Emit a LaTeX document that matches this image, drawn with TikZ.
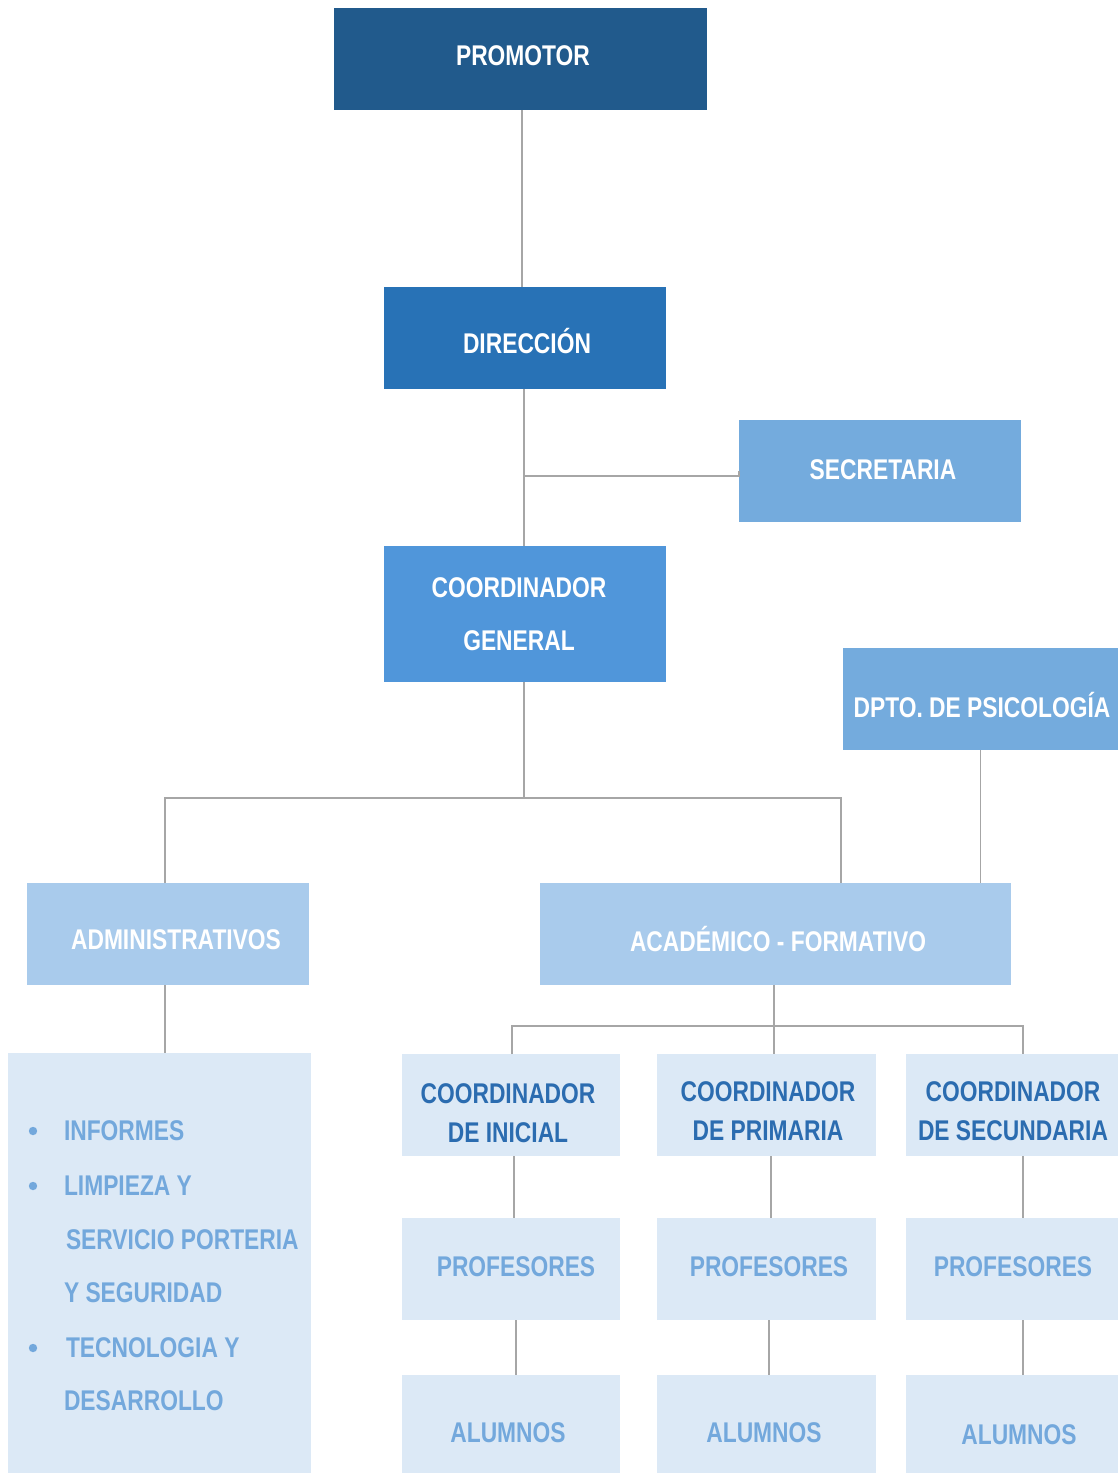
\documentclass[tikz,border=0pt]{standalone}
\usepackage{fontspec}
\setmainfont{Liberation Sans}[FakeStretch=0.8]
\usetikzlibrary{calc}
\definecolor{cPromo}{HTML}{215A8C}
\definecolor{cDir}{HTML}{2872B6}
\definecolor{cSec}{HTML}{74ABDD}
\definecolor{cGen}{HTML}{5096DA}
\definecolor{cMid}{HTML}{A9CBEC}
\definecolor{cLight}{HTML}{DCE9F6}
\definecolor{cDark}{HTML}{2B6CB0}
\definecolor{cSoft}{HTML}{73A8DC}
\definecolor{cLine}{HTML}{A6A6A6}
\tikzset{
  orgbox/.style={draw=none, inner sep=0pt, outer sep=0pt},
  txt/.style={inner sep=0pt, outer sep=0pt, text height=20pt, text depth=0pt,
    font=\fontsize{28.5}{34}\selectfont\bfseries},
  conn/.style={draw=cLine, line width=1.6pt},
}
\begin{document}
\begin{tikzpicture}[x=1pt,y=-1pt]
\useasboundingbox[fill=white] (0,0) rectangle (1118,1473);
% boxes
\node[orgbox, fill=cPromo, minimum width=373pt, minimum height=102pt] (promotor) at (520.5,59) {};
\node[orgbox, fill=cDir, minimum width=282pt, minimum height=102pt] (direccion) at (525,338) {};
\node[orgbox, fill=cSec, minimum width=282pt, minimum height=102pt] (secretaria) at (880,471) {};
\node[orgbox, fill=cGen, minimum width=282pt, minimum height=136pt] (coordgen) at (525,614) {};
\node[orgbox, fill=cSec, minimum width=275pt, minimum height=102pt] (dpto) at (980.5,699) {};
\node[orgbox, fill=cMid, minimum width=282pt, minimum height=102pt] (admin) at (168,934) {};
\node[orgbox, fill=cMid, minimum width=471pt, minimum height=102pt] (acad) at (775.5,934) {};
\node[orgbox, fill=cLight, minimum width=303pt, minimum height=420pt] (admbox) at (159.5,1263) {};
\node[orgbox, fill=cLight, minimum width=218pt, minimum height=102pt] (ci) at (511,1105) {};
\node[orgbox, fill=cLight, minimum width=219pt, minimum height=102pt] (cp) at (766.5,1105) {};
\node[orgbox, fill=cLight, minimum width=212pt, minimum height=102pt] (cs) at (1012,1105) {};
\node[orgbox, fill=cLight, minimum width=218pt, minimum height=102pt] (pi) at (511,1269) {};
\node[orgbox, fill=cLight, minimum width=219pt, minimum height=102pt] (pp) at (766.5,1269) {};
\node[orgbox, fill=cLight, minimum width=212pt, minimum height=102pt] (ps) at (1012,1269) {};
\node[orgbox, fill=cLight, minimum width=218pt, minimum height=98pt] (ai) at (511,1424) {};
\node[orgbox, fill=cLight, minimum width=219pt, minimum height=98pt] (ap) at (766.5,1424) {};
\node[orgbox, fill=cLight, minimum width=212pt, minimum height=98pt] (as) at (1012,1424) {};
% texts
\node[txt, text=white] (t-promotor) at (523,55) {PROMOTOR};
\node[txt, text=white] (t-direccion) at (527,343) {DIRECCIÓN};
\node[txt, text=white] (t-secretaria) at (883,469) {SECRETARIA};
\node[txt, text=white] (t-gen1) at (519,587) {COORDINADOR};
\node[txt, text=white] (t-gen2) at (519,640) {GENERAL};
\node[txt, text=white] (t-dpto) at (982,707) {DPTO. DE PSICOLOGÍA};
\node[txt, text=white] (t-admin) at (176,939) {ADMINISTRATIVOS};
\node[txt, text=white] (t-acad) at (778,941) {ACADÉMICO - FORMATIVO};
% admin list
\node[txt, text=cSoft, anchor=west] (l1) at (64,1130) {INFORMES};
\node[txt, text=cSoft, anchor=west] (l2) at (64,1185) {LIMPIEZA Y};
\node[txt, text=cSoft, anchor=west] (l3) at (66,1239) {SERVICIO PORTERIA};
\node[txt, text=cSoft, anchor=west] (l4) at (64,1292) {Y SEGURIDAD};
\node[txt, text=cSoft, anchor=west] (l5) at (66,1347) {TECNOLOGIA Y};
\node[txt, text=cSoft, anchor=west] (l6) at (64,1400) {DESARROLLO};
\foreach \yy in {1131,1186,1348}
  \fill[cSoft] (33,\yy) circle (4.2pt);
% coordinators
\node[txt, text=cDark] (t-ci1) at (508,1093) {COORDINADOR};
\node[txt, text=cDark] (t-ci2) at (508,1132) {DE INICIAL};
\node[txt, text=cDark] (t-cp1) at (768,1091) {COORDINADOR};
\node[txt, text=cDark] (t-cp2) at (768,1130) {DE PRIMARIA};
\node[txt, text=cDark] (t-cs1) at (1013,1091) {COORDINADOR};
\node[txt, text=cDark] (t-cs2) at (1013,1130) {DE SECUNDARIA};
\node[txt, text=cSoft] (t-pi) at (516,1266) {PROFESORES};
\node[txt, text=cSoft] (t-pp) at (769,1266) {PROFESORES};
\node[txt, text=cSoft] (t-ps) at (1013,1266) {PROFESORES};
\node[txt, text=cSoft] (t-ai) at (508,1432) {ALUMNOS};
\node[txt, text=cSoft] (t-ap) at (764,1432) {ALUMNOS};
\node[txt, text=cSoft] (t-as) at (1019,1434) {ALUMNOS};
% connectors
\coordinate (acadin) at (841,883);
\coordinate (csin) at ($(cs.north)+(11,0)$);
\coordinate (adminin) at ($(admin.north)+(-3,0)$);
\draw[conn] ($(promotor.south)+(1.5,0)$) -- ($(promotor.south |- direccion.north)+(1.5,0)$);
\draw[conn] ($(direccion.south)+(-1,0)$) -- ($(coordgen.north)+(-1,0)$);
\draw[conn] (secretaria.west) -- ++(0,5) -- ($(secretaria.west -| direccion.south)+(-1,5)$);
\draw[conn] ($(coordgen.south)+(-1,0)$) -- ++(0,116);
\draw[conn] (adminin) -- ++(0,-85) -| (acadin);
\draw[conn] (dpto.south) -- (dpto.south |- acad.north);
\draw[conn] ($(admin.south)+(-3,0)$) -- ($(admin.south |- admbox.north)+(-3,0)$);
\draw[conn] ($(acad.south)+(-1.5,0)$) -- ($(acad.south |- cp.north)+(-1.5,0)$);
\draw[conn] ($(ci.north)+(1,0)$) -- ++(0,-28) -| (csin);
\draw[conn] ($(ci.south)+(3,0)$) -- ($(pi.north)+(3,0)$);
\draw[conn] ($(cp.south)+(4.5,0)$) -- ($(pp.north)+(4.5,0)$);
\draw[conn] ($(cs.south)+(11,0)$) -- ($(ps.north)+(11,0)$);
\draw[conn] ($(pi.south)+(5,0)$) -- ($(ai.north)+(5,0)$);
\draw[conn] ($(pp.south)+(2.5,0)$) -- ($(ap.north)+(2.5,0)$);
\draw[conn] ($(ps.south)+(11,0)$) -- ($(as.north)+(11,0)$);
\end{tikzpicture}
\end{document}
